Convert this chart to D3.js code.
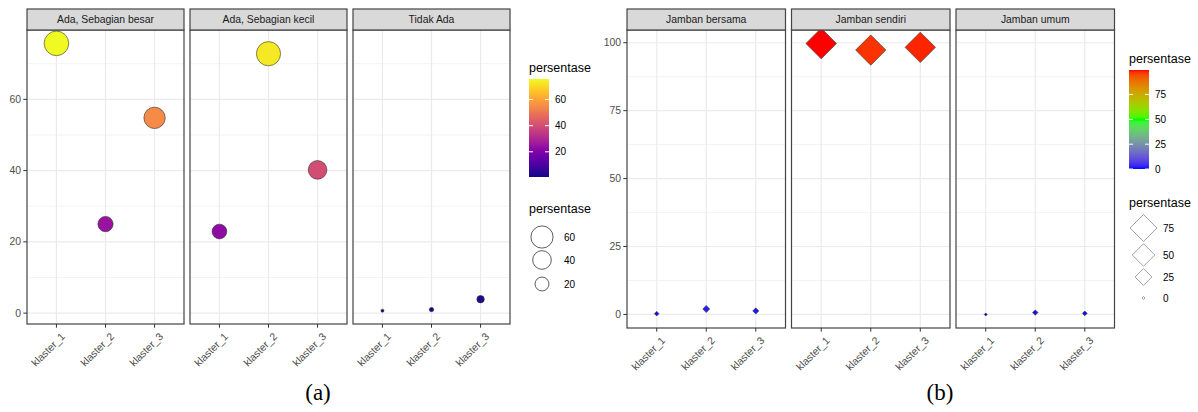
<!DOCTYPE html>
<html><head><meta charset="utf-8">
<script src="https://cdn.jsdelivr.net/npm/d3@7"></script>
<style>body{margin:0;background:#fff} svg{display:block;font-family:"Liberation Sans",Arial,sans-serif}</style>
</head><body><svg id="c" width="1198" height="412"></svg>
<script>
// ---------- data ----------
const clusters = ["klaster_1", "klaster_2", "klaster_3"];
// (a)
const facetsA = ["Ada, Sebagian besar", "Ada, Sebagian kecil", "Tidak Ada"];
const besarA = [75.7, 25.0, 54.8];
const kecilA = [22.9, 72.8, 40.2];
const tidakA = [0.7, 1.0, 3.9];
const yTicksA = [0, 20, 40, 60];
const yMinorA = [10, 30, 50, 70];
const colorBreaksA = [20, 40, 60];
const sizeBreaksA = [60, 40, 20];
// (b)
const facetsB = ["Jamban bersama", "Jamban sendiri", "Jamban umum"];
const bersamaB = [0.3, 2.0, 1.3];
const sendiriB = [99.7, 97.3, 98.3];
const umumB = [0.0, 0.7, 0.4];
const yTicksB = [0, 25, 50, 75, 100];
const yMinorB = [12.5, 37.5, 62.5, 87.5];
const colorBreaksB = [0, 25, 50, 75];
const sizeBreaksB = [75, 50, 25, 0];
const legendTitle = "persentase";
const captions = ["(a)", "(b)"];

// ---------- layout ----------
const svg = d3.select("#c");
const AX = "#4d4d4d", BORDER = "#444", GRID = "#ebebeb";
const FS = 10.4;

function drawChart(cfg) {
  const g = svg.append("g");
  const all = cfg.series.flat();
  const [mn, mx] = d3.extent(all);
  const pad = (mx - mn) * 0.05;
  const y = d3.scaleLinear().domain([mn - pad, mx + pad]).range([cfg.bottom, cfg.top]);
  const color = cfg.colorScale(mn, mx);
  const sizeT = d3.scaleLinear().domain([0, 1]).range(cfg.sizeRange);
  const size = v => sizeT(Math.sqrt(Math.max(0, (v - mn) / (mx - mn))));

  cfg.facets.forEach((f, i) => {
    const x0 = cfg.left + i * cfg.step, x1 = x0 + cfg.width;
    const x = d3.scalePoint().domain(clusters).range([x0, x1]).padding(0.6);
    const pg = g.append("g");
    pg.append("rect").attr("x", x0).attr("y", cfg.top).attr("width", cfg.width)
      .attr("height", cfg.bottom - cfg.top).attr("fill", "#fff");
    pg.selectAll(".mn").data(cfg.minor).join("line")
      .attr("x1", x0).attr("x2", x1).attr("y1", d => y(d)).attr("y2", d => y(d))
      .attr("stroke", GRID).attr("stroke-width", 0.6);
    pg.selectAll(".mj").data(cfg.ticks).join("line")
      .attr("x1", x0).attr("x2", x1).attr("y1", d => y(d)).attr("y2", d => y(d))
      .attr("stroke", GRID).attr("stroke-width", 1.2);
    pg.selectAll(".vx").data(clusters).join("line")
      .attr("x1", d => x(d)).attr("x2", d => x(d)).attr("y1", cfg.top).attr("y2", cfg.bottom)
      .attr("stroke", GRID).attr("stroke-width", 1.2);
    const vals = cfg.series[i];
    pg.selectAll(".pt").data(clusters.map((c, j) => ({ c, v: vals[j] }))).join("path")
      .attr("d", d => cfg.shape(size(d.v)))
      .attr("transform", d => `translate(${x(d.c)},${y(d.v)})`)
      .attr("fill", d => color(d.v)).attr("stroke", "#333").attr("stroke-width", 0.6);
    pg.append("rect").attr("x", x0).attr("y", cfg.top).attr("width", cfg.width)
      .attr("height", cfg.bottom - cfg.top).attr("fill", "none")
      .attr("stroke", BORDER).attr("stroke-width", 1.2);
    pg.append("rect").attr("x", x0).attr("y", cfg.stripTop).attr("width", cfg.width)
      .attr("height", cfg.top - cfg.stripTop).attr("fill", "#d9d9d9")
      .attr("stroke", BORDER).attr("stroke-width", 1.2);
    pg.append("text").attr("x", (x0 + x1) / 2).attr("y", (cfg.stripTop + cfg.top) / 2)
      .attr("text-anchor", "middle").attr("dominant-baseline", "central")
      .attr("font-size", FS).attr("fill", "#1a1a1a").text(f);
    pg.selectAll(".xt").data(clusters).join("line")
      .attr("x1", d => x(d)).attr("x2", d => x(d)).attr("y1", cfg.bottom).attr("y2", cfg.bottom + 3.7)
      .attr("stroke", "#333").attr("stroke-width", 1);
    pg.selectAll(".xl").data(clusters).join("text")
      .attr("transform", d => `translate(${x(d) + 4},${cfg.bottom + 8}) rotate(-45)`)
      .attr("text-anchor", "end").attr("dy", "0.71em")
      .attr("font-size", FS).attr("fill", AX).text(d => d);
  });
  g.selectAll(".yt").data(cfg.ticks).join("line")
    .attr("x1", cfg.left - 3.7).attr("x2", cfg.left).attr("y1", d => y(d)).attr("y2", d => y(d))
    .attr("stroke", "#333").attr("stroke-width", 1);
  g.selectAll(".yl").data(cfg.ticks).join("text")
    .attr("x", cfg.left - 6).attr("y", d => y(d)).attr("text-anchor", "end")
    .attr("dominant-baseline", "central").attr("font-size", FS).attr("fill", AX).text(d => d);

  // colour legend
  const L = cfg.legend;
  g.append("text").attr("x", L.x).attr("y", L.titleY).attr("dominant-baseline", "central")
    .attr("font-size", 12.5).attr("fill", "#000").text(legendTitle);
  const cb = d3.scaleLinear().domain([mn, mx]).range([L.barBottom, L.barTop]);
  const gid = "grad" + cfg.id;
  const grad = svg.append("defs").append("linearGradient").attr("id", gid)
    .attr("x1", 0).attr("y1", 1).attr("x2", 0).attr("y2", 0);
  d3.range(0, 1.0001, 0.02).forEach(t => {
    grad.append("stop").attr("offset", t).attr("stop-color", color(mn + t * (mx - mn)));
  });
  g.append("rect").attr("x", L.x).attr("y", L.barTop).attr("width", 20)
    .attr("height", L.barBottom - L.barTop).attr("fill", `url(#${gid})`);
  cfg.colorBreaks.forEach(b => {
    [[L.x, L.x + 4], [L.x + 16, L.x + 20]].forEach(([a, c]) =>
      g.append("line").attr("x1", a).attr("x2", c).attr("y1", cb(b)).attr("y2", cb(b))
        .attr("stroke", "#fff").attr("stroke-width", 1));
    g.append("text").attr("x", L.x + 26).attr("y", cb(b)).attr("dominant-baseline", "central")
      .attr("font-size", 10).attr("fill", "#000").text(b);
  });
  // size legend
  g.append("text").attr("x", L.x).attr("y", L.sizeTitleY).attr("dominant-baseline", "central")
    .attr("font-size", 12.5).attr("fill", "#000").text(legendTitle);
  cfg.sizeBreaks.forEach((b, k) => {
    const cy = L.keyY[k];
    g.append("path").attr("d", cfg.shape(size(b)))
      .attr("transform", `translate(${L.keyX},${cy})`)
      .attr("fill", "none").attr("stroke", L.keyStroke).attr("stroke-width", 0.8);
    g.append("text").attr("x", L.keyLabelX).attr("y", cy).attr("dominant-baseline", "central")
      .attr("font-size", 10).attr("fill", "#000").text(b);
  });
  svg.append("text").attr("x", cfg.captionX).attr("y", 400).attr("text-anchor", "middle")
    .attr("font-family", "'Liberation Serif','Times New Roman',serif").attr("font-size", 23)
    .attr("fill", "#000").text(cfg.caption);
}

const circle = r => `M${-r},0A${r},${r} 0 1,0 ${r},0A${r},${r} 0 1,0 ${-r},0Z`;
const diamond = r => `M0,${-r}L${r},0L0,${r}L${-r},0Z`;

drawChart({
  id: "A", facets: facetsA, series: [besarA, kecilA, tidakA],
  left: 27, step: 163, width: 157, stripTop: 9, top: 30, bottom: 324,
  ticks: yTicksA, minor: yMinorA, colorBreaks: colorBreaksA, sizeBreaks: sizeBreaksA,
  colorScale: (mn, mx) => v => d3.interpolatePlasma((v - mn) / (mx - mn)),
  sizeRange: [1.5, 12.3], shape: circle,
  legend: { x: 529, titleY: 68, barTop: 79, barBottom: 177, sizeTitleY: 209,
            keyX: 542, keyY: [237, 260, 284], keyLabelX: 564, keyStroke: "#333" },
  caption: captions[0], captionX: 318
});
drawChart({
  id: "B", facets: facetsB, series: [bersamaB, sendiriB, umumB],
  left: 627, step: 164.5, width: 158.5, stripTop: 9, top: 30, bottom: 328,
  ticks: yTicksB, minor: yMinorB, colorBreaks: colorBreaksB, sizeBreaks: sizeBreaksB,
  colorScale: (mn, mx) => d3.scaleLinear().domain([mn, (mn + mx) / 2, mx])
      .range(["#0000ff", "#00ff00", "#ff0000"]).interpolate(d3.interpolateLab),
  sizeRange: [1.5, 15.3], shape: diamond,
  legend: { x: 1129, titleY: 59, barTop: 70, barBottom: 169, sizeTitleY: 203,
            keyX: 1143.5, keyY: [228, 255, 277, 298], keyLabelX: 1163, keyStroke: "#888" },
  caption: captions[1], captionX: 940
});
</script></body></html>
